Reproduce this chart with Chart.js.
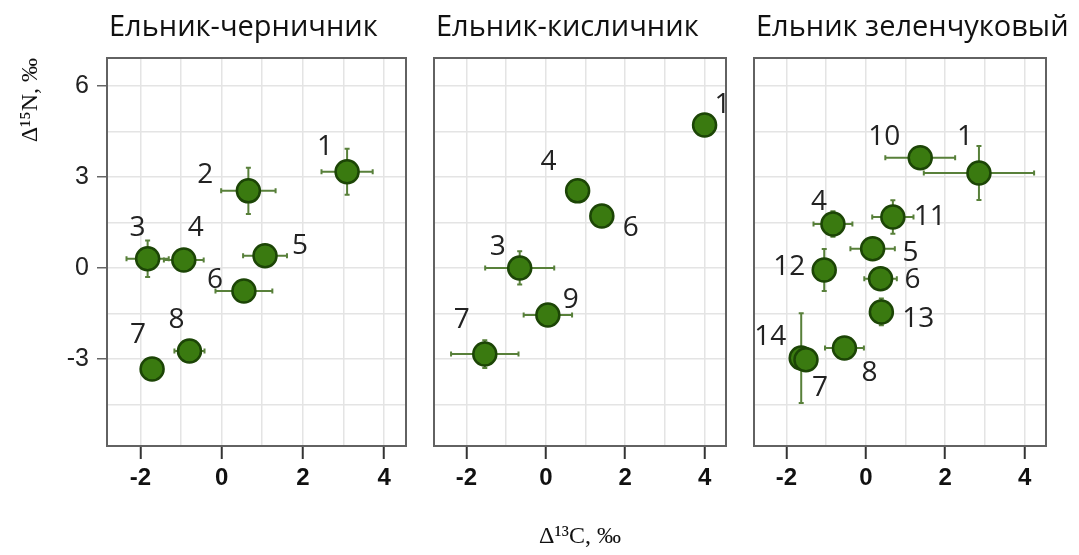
<!DOCTYPE html>
<html>
<head>
<meta charset="utf-8">
<script src="https://cdn.jsdelivr.net/npm/chart.js@4/dist/chart.umd.min.js"></script>
<style>
  body { margin: 0; background: #fff; }
  #wrap { position: relative; width: 1079px; height: 555px; }
  canvas { position: absolute; top: 0; }
</style>
</head>
<body>
<div id="wrap">
  <canvas id="c1" width="420" height="555" style="left:0px"></canvas>
  <canvas id="c2" width="320" height="555" style="left:420px"></canvas>
  <canvas id="c3" width="339" height="555" style="left:740px"></canvas>
</div>
<script>
const panelTitles = ["Ельник-черничник", "Ельник-кисличник", "Ельник зеленчуковый"];
const xTitle = "Δ¹³C, ‰";
const yTitle = "Δ¹⁵N, ‰";
const xTickValues = [-2, 0, 2, 4];
const yTickValues = [-3, 0, 3, 6];

// Ельник-черничник
const ids1 = ["1", "2", "3", "4", "5", "6", "7", "8"];
const x1 = [3.09, 0.66, -1.82, -0.93, 1.07, 0.55, -1.71, -0.79];
const y1 = [3.17, 2.54, 0.3, 0.26, 0.4, -0.76, -3.33, -2.74];
const xErr1 = [0.63, 0.67, 0.52, 0.49, 0.54, 0.7, 0, 0.37];
const yErr1 = [0.76, 0.76, 0.6, 0, 0, 0, 0, 0];

// Ельник-кисличник
const ids2 = ["1", "4", "6", "3", "9", "7"];
const x2 = [4.0, 0.8, 1.41, -0.66, 0.05, -1.54];
const y2 = [4.71, 2.54, 1.71, 0.0, -1.55, -2.84];
const xErr2 = [0, 0, 0, 0.87, 0.61, 0.85];
const yErr2 = [0, 0, 0, 0.55, 0, 0.46];

// Ельник зеленчуковый
const ids3 = ["10", "1", "4", "11", "5", "12", "6", "13", "14", "7", "8"];
const x3 = [1.37, 2.85, -0.83, 0.68, 0.17, -1.05, 0.37, 0.39, -1.63, -1.51, -0.54];
const y3 = [3.63, 3.13, 1.45, 1.68, 0.63, -0.07, -0.36, -1.45, -2.97, -3.03, -2.64];
const xErr3 = [0.88, 1.39, 0.49, 0.52, 0.56, 0, 0.41, 0, 0, 0, 0.49];
const yErr3 = [0, 0.89, 0.42, 0.55, 0, 0.69, 0, 0.44, 1.48, 0, 0];

// where each number label sits relative to its point (px)
const labelPos1 = [[-22, -25], [-43, -16], [-10, -31], [12, -32], [35, -10], [-29, -11], [-14, -34], [-13, -31]];
const labelPos2 = [[18, -20], [-29, -29], [29, 12], [-22, -21], [23, -15], [-23, -34]];
const labelPos3 = [[-36, -21], [-14, -36], [-14, -22], [37, 0], [38, 4], [-35, -3], [32, 1], [37, 7], [-31, -21], [14, 28], [25, 25]];

const X_MIN = -2.82, X_MAX = 4.54;
const Y_MIN = -5.87, Y_MAX = 6.92;

function gridValues(major, min, max) {
  const step = (major[1] - major[0]) / 2;
  const out = [];
  let v = major[0];
  while (v - step >= min) v -= step;
  for (; v <= max + 1e-9; v += step) out.push({ value: +v.toFixed(4) });
  return out;
}

function isMajor(list, v) {
  return list.some((m) => Math.abs(m - v) < 1e-6);
}

const errorBars = {
  id: "errorBars",
  beforeDatasetsDraw(chart, args, opts) {
    const { ctx, scales } = chart;
    ctx.save();
    ctx.strokeStyle = "#58803a";
    ctx.lineWidth = 2;
    opts.xs.forEach((xv, i) => {
      const px = scales.x.getPixelForValue(xv);
      const py = scales.y.getPixelForValue(opts.ys[i]);
      if (opts.xErr[i] > 0) {
        const a = scales.x.getPixelForValue(xv - opts.xErr[i]);
        const b = scales.x.getPixelForValue(xv + opts.xErr[i]);
        ctx.beginPath();
        ctx.moveTo(a, py); ctx.lineTo(b, py);
        ctx.moveTo(a, py - 2.5); ctx.lineTo(a, py + 2.5);
        ctx.moveTo(b, py - 2.5); ctx.lineTo(b, py + 2.5);
        ctx.stroke();
      }
      if (opts.yErr[i] > 0) {
        const a = scales.y.getPixelForValue(opts.ys[i] - opts.yErr[i]);
        const b = scales.y.getPixelForValue(opts.ys[i] + opts.yErr[i]);
        ctx.beginPath();
        ctx.moveTo(px, a); ctx.lineTo(px, b);
        ctx.moveTo(px - 2.5, a); ctx.lineTo(px + 2.5, a);
        ctx.moveTo(px - 2.5, b); ctx.lineTo(px + 2.5, b);
        ctx.stroke();
      }
    });
    ctx.restore();
  },
};

// panel frame + facet title
const frame = {
  id: "frame",
  beforeDatasetsDraw(chart, args, opts) {
    const { ctx, chartArea: a } = chart;
    ctx.save();
    ctx.strokeStyle = "#626262";
    ctx.lineWidth = 2;
    ctx.strokeRect(a.left, a.top, a.right - a.left, a.bottom - a.top);
    ctx.font = "29px 'Open Sans'";
    ctx.fillStyle = "#111";
    ctx.textAlign = "left";
    ctx.textBaseline = "middle";
    ctx.fillText(opts.title, a.left + 2, 28);
    ctx.restore();
  },
};

const pointLabels = {
  id: "pointLabels",
  afterDatasetsDraw(chart, args, opts) {
    const { ctx } = chart;
    const meta = chart.getDatasetMeta(0);
    ctx.save();
    ctx.font = "28px 'Open Sans'";
    ctx.fillStyle = "#222";
    ctx.textAlign = "center";
    ctx.textBaseline = "middle";
    meta.data.forEach((pt, i) => {
      const [dx, dy] = opts.offsets[i];
      ctx.fillText(opts.ids[i], pt.x + dx, pt.y + dy);
    });
    ctx.restore();
  },
};

function makePanel(id, title, ids, xs, ys, xErr, yErr, offsets, cfg) {
  const ctx = document.getElementById(id);
  new Chart(ctx, {
    type: "scatter",
    data: {
      datasets: [
        {
          data: xs.map((x, i) => ({ x: x, y: ys[i] })),
          backgroundColor: "#3a7a10",
          borderColor: "#1c4506",
          borderWidth: 2.5,
          pointRadius: 11.5,
          pointHoverRadius: 11.5,
        },
      ],
    },
    options: {
      responsive: false,
      animation: false,
      layout: { padding: { left: 0, right: cfg.padRight, top: 58, bottom: 0 } },
      plugins: {
        legend: { display: false },
        tooltip: { enabled: false },
        title: { display: false },
        frame: { title: title },
        errorBars: { xs: xs, ys: ys, xErr: xErr, yErr: yErr },
        pointLabels: { ids: ids, offsets: offsets },
      },
      scales: {
        x: {
          type: "linear",
          min: X_MIN,
          max: X_MAX,
          afterBuildTicks: (ax) => { ax.ticks = gridValues(xTickValues, X_MIN, X_MAX); },
          afterFit: (ax) => { ax.height = 109; },
          border: { display: false },
          grid: {
            color: "#e4e4e4",
            lineWidth: 1.5,
            tickLength: 13,
            tickWidth: 2,
            tickColor: (c) => (isMajor(xTickValues, c.tick.value) ? "#333" : "rgba(0,0,0,0)"),
          },
          ticks: {
            padding: 5,
            color: "#111",
            font: { family: "'Liberation Sans'", size: 24, weight: "bold" },
            maxRotation: 0,
            autoSkip: false,
            callback: (v) => (isMajor(xTickValues, v) ? String(v) : ""),
          },
          title: {
            display: cfg.xTitle,
            text: xTitle,
            color: "#111",
            font: { family: "'Liberation Serif'", size: 24 },
            padding: { top: 0, bottom: 4 },
          },
        },
        y: {
          type: "linear",
          min: Y_MIN,
          max: Y_MAX,
          afterBuildTicks: (ax) => { ax.ticks = gridValues(yTickValues, Y_MIN, Y_MAX); },
          afterFit: (ax) => { ax.width = cfg.yWidth; },
          border: { display: false },
          grid: {
            color: "#e4e4e4",
            lineWidth: 1.5,
            drawTicks: cfg.yLabels,
            tickLength: 10,
            tickWidth: 1.5,
            tickColor: (c) => (isMajor(yTickValues, c.tick.value) ? "#666" : "rgba(0,0,0,0)"),
          },
          ticks: {
            display: cfg.yLabels,
            padding: 8,
            color: "#222",
            font: { family: "'Liberation Sans'", size: 25 },
            autoSkip: false,
            callback: (v) => (isMajor(yTickValues, v) ? String(v) : ""),
          },
          title: {
            display: cfg.yLabels,
            text: yTitle,
            align: "end",
            color: "#111",
            font: { family: "'Liberation Serif'", size: 24 },
            padding: { top: 16, bottom: 0 },
          },
        },
      },
    },
    plugins: [frame, errorBars, pointLabels],
  });
}

window.onload = function () {
  makePanel("c1", panelTitles[0], ids1, x1, y1, xErr1, yErr1, labelPos1,
    { yWidth: 107, padRight: 13, yLabels: true, xTitle: false });
  makePanel("c2", panelTitles[1], ids2, x2, y2, xErr2, yErr2, labelPos2,
    { yWidth: 7, padRight: 13, yLabels: false, xTitle: true });
  makePanel("c3", panelTitles[2], ids3, x3, y3, xErr3, yErr3, labelPos3,
    { yWidth: 6, padRight: 33, yLabels: false, xTitle: false });
};
</script>
</body>
</html>
